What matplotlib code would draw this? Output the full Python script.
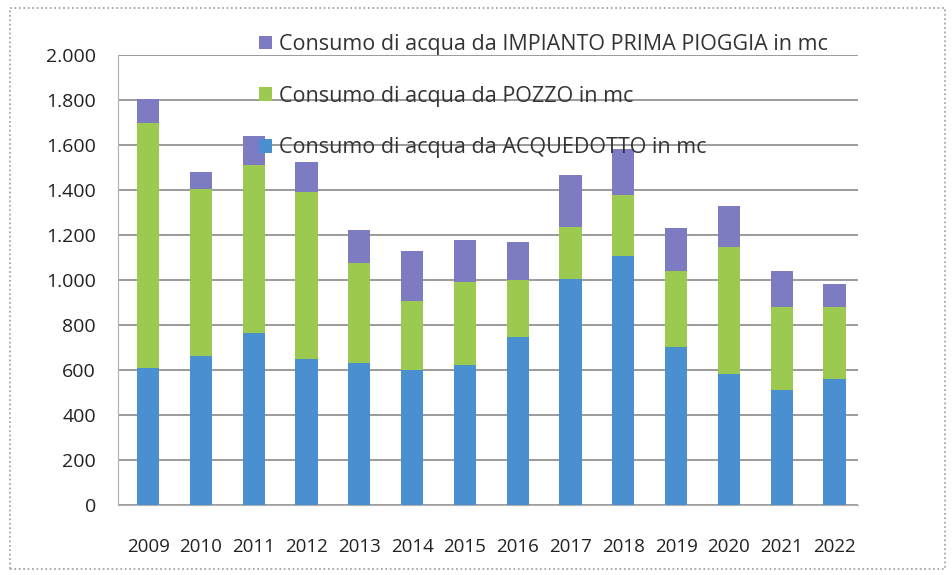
import matplotlib.pyplot as plt
from matplotlib.ticker import FuncFormatter
from matplotlib.patches import Rectangle

# Dati (mc)
anni = ["2009", "2010", "2011", "2012", "2013", "2014", "2015",
        "2016", "2017", "2018", "2019", "2020", "2021", "2022"]
acquedotto = [610, 660, 765, 650, 630, 600, 620, 745, 1005, 1105, 700, 580, 510, 560]
pozzo = [1085, 745, 745, 740, 445, 305, 370, 255, 230, 270, 340, 565, 370, 320]
prima_pioggia = [110, 75, 130, 135, 145, 225, 185, 170, 230, 205, 190, 185, 160, 100]

etichette = ["Consumo di acqua da ACQUEDOTTO in mc",
             "Consumo di acqua da POZZO in mc",
             "Consumo di acqua da IMPIANTO PRIMA PIOGGIA in mc"]
colori = ["#4a8fd0", "#9cc950", "#7d7cc2"]

plt.rcParams["font.family"] = ["Open Sans", "DejaVu Sans"]

fig = plt.figure(figsize=(9.52, 5.75), dpi=100)
ax = fig.add_axes([0.124, 0.122, 0.777, 0.7826])

x = list(range(len(anni)))
base2 = acquedotto
base3 = [a + p for a, p in zip(acquedotto, pozzo)]

b1 = ax.bar(x, acquedotto, width=0.42, color=colori[0], zorder=3)
b2 = ax.bar(x, pozzo, width=0.42, bottom=base2, color=colori[1], zorder=3)
b3 = ax.bar(x, prima_pioggia, width=0.42, bottom=base3, color=colori[2], zorder=3)

ax.set_xlim(-0.57, 13.44)
ax.set_ylim(0, 2000)
ax.set_yticks(range(0, 2001, 200))
ax.yaxis.set_major_formatter(FuncFormatter(lambda v, p: f"{v:,.0f}".replace(",", ".")))
ax.set_xticks(x)
ax.set_xticklabels(anni)
ax.tick_params(axis="y", length=0, pad=16, labelsize=14, colors="#222222")
ax.tick_params(axis="x", length=0, pad=24, labelsize=13.5, colors="#222222")

ax.grid(axis="y", color="#8a8a8a", linewidth=1.2, zorder=0)
for s in ["top", "right"]:
    ax.spines[s].set_visible(False)
ax.spines["left"].set_color("#b0b0b0")
ax.spines["bottom"].set_color("#b0b0b0")

# Legenda (ordine inverso, come nell'originale)
leg = ax.legend([b3, b2, b1], etichette[::-1], loc="upper left",
                bbox_to_anchor=(0.268, 0.948), bbox_transform=fig.transFigure,
                frameon=False, fontsize=15.5, labelspacing=1.42,
                handlelength=0.6, handleheight=0.6, handletextpad=0.3,
                borderaxespad=0, borderpad=0.2)
for t in leg.get_texts():
    t.set_color("#333333")

# Cornice tratteggiata esterna
fig.patches.append(Rectangle((0.011, 0.01), 0.982, 0.976, transform=fig.transFigure,
                             fill=False, edgecolor="#9a9a9a", linestyle=":", linewidth=1.2))

fig.savefig("out.png", dpi=100)
